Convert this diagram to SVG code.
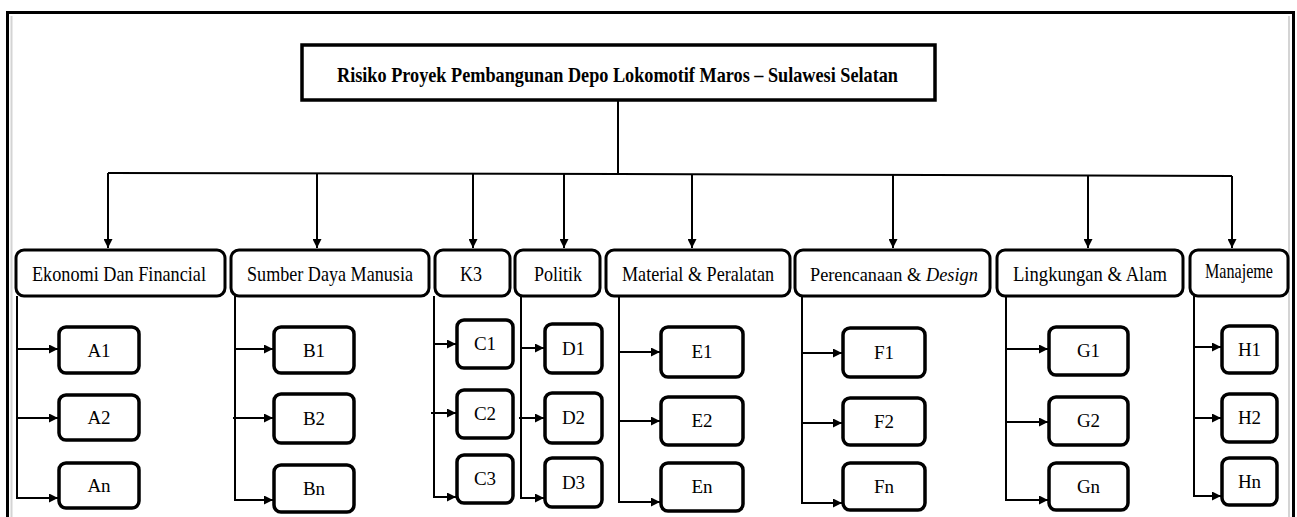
<svg xmlns="http://www.w3.org/2000/svg" width="1297" height="517" viewBox="0 0 1297 517">
  <style>
    .frame { fill: none; stroke: #000; stroke-width: 3; }
    .shade { fill: none; stroke: #d4d4d4; stroke-width: 2; }
    .title-box { fill: #fff; stroke: #000; stroke-width: 3.5; }
    .cat-box { fill: #fff; stroke: #000; stroke-width: 3; }
    .sub-box { fill: #fff; stroke: #000; stroke-width: 3.5; }
    .wire { fill: none; stroke: #000; stroke-width: 2; }
    .arrow { fill: none; stroke: #000; stroke-width: 2; marker-end: url(#head); }
    text { font-family: "Liberation Serif", "Times New Roman", Times, "DejaVu Serif", serif; fill: #000; }
    .title { font-weight: bold; font-size: 22px; text-anchor: middle; }
    .cat { font-size: 21px; text-anchor: middle; }
    .cat-l { font-size: 18.3px; text-anchor: start; }
    .sub { font-size: 19px; text-anchor: middle; }
  </style>
  <defs>
    <marker id="head" viewBox="0 0 10 10" refX="10" refY="5" markerWidth="10" markerHeight="9" markerUnits="userSpaceOnUse" orient="auto">
      <path d="M0,0 L10,5 L0,10 z" fill="#000"/>
    </marker>
  </defs>

  <rect width="1297" height="517" fill="#fff"/>

  <!-- page frame -->
  <g id="frame">
    <line class="shade" x1="11.5" y1="16" x2="11.5" y2="517"/>
    <line class="shade" x1="1289" y1="16" x2="1289" y2="517"/>
    <rect class="frame" x="7.5" y="12.5" width="1286" height="520"/>
  </g>

  <!-- connectors -->
  <g id="connectors">
    <!-- root to bus -->
    <line class="wire" x1="618" y1="100" x2="618" y2="174"/>
    <polyline class="wire" points="108,173 618,174 1232,176"/>
    <!-- bus to categories -->
    <line class="arrow" x1="108" y1="173" x2="108" y2="248"/>
    <line class="arrow" x1="317" y1="173.5" x2="317" y2="248"/>
    <line class="arrow" x1="473" y1="174" x2="473" y2="248"/>
    <line class="arrow" x1="564" y1="174" x2="564" y2="248"/>
    <line class="arrow" x1="692" y1="174.5" x2="692" y2="248"/>
    <line class="arrow" x1="893" y1="175" x2="893" y2="248"/>
    <line class="arrow" x1="1088" y1="175.5" x2="1088" y2="248"/>
    <line class="arrow" x1="1232" y1="176" x2="1232" y2="248"/>

    <!-- A branch -->
    <path class="arrow" d="M17,296 V498 H58"/>
    <line class="arrow" x1="17" y1="349" x2="58" y2="349"/>
    <line class="arrow" x1="17" y1="418" x2="58" y2="418"/>
    <!-- B branch -->
    <path class="arrow" d="M235,296 V500 H273"/>
    <line class="arrow" x1="235" y1="349" x2="273" y2="349"/>
    <line class="arrow" x1="233" y1="418" x2="273" y2="418"/>
    <!-- C branch -->
    <path class="arrow" d="M434,296 V497 H456"/>
    <line class="arrow" x1="434" y1="344" x2="456" y2="344"/>
    <line class="arrow" x1="431" y1="413" x2="456" y2="413"/>
    <!-- D branch -->
    <path class="arrow" d="M521,296 V498 H544"/>
    <line class="arrow" x1="521" y1="348" x2="544" y2="348"/>
    <line class="arrow" x1="519" y1="418" x2="544" y2="418"/>
    <!-- E branch -->
    <path class="arrow" d="M619,296 V502 H660"/>
    <line class="arrow" x1="619" y1="352" x2="660" y2="352"/>
    <line class="arrow" x1="619" y1="421" x2="660" y2="421"/>
    <!-- F branch -->
    <path class="arrow" d="M802,296 V503 H842"/>
    <line class="arrow" x1="802" y1="353" x2="842" y2="353"/>
    <line class="arrow" x1="802" y1="423" x2="842" y2="423"/>
    <!-- G branch -->
    <path class="arrow" d="M1006,296 V500 H1048"/>
    <line class="arrow" x1="1006" y1="349" x2="1048" y2="349"/>
    <line class="arrow" x1="1006" y1="422" x2="1048" y2="422"/>
    <!-- H branch -->
    <path class="arrow" d="M1194,296 V496 H1221"/>
    <line class="arrow" x1="1194" y1="347" x2="1221" y2="347"/>
    <line class="arrow" x1="1194" y1="418" x2="1221" y2="418"/>
  </g>

  <!-- root -->
  <g id="root">
    <rect class="title-box" x="302" y="45" width="633" height="55"/>
    <text class="title" x="617.5" y="82" textLength="561" lengthAdjust="spacingAndGlyphs">Risiko Proyek Pembangunan Depo Lokomotif Maros – Sulawesi Selatan</text>
  </g>

  <!-- categories -->
  <g id="cat-a">
    <rect class="cat-box" x="16" y="250" width="209" height="46" rx="8"/>
    <text class="cat" x="119" y="281" textLength="174" lengthAdjust="spacingAndGlyphs">Ekonomi Dan Financial</text>
  </g>
  <g id="cat-b">
    <rect class="cat-box" x="231" y="250" width="198" height="46" rx="8"/>
    <text class="cat" x="330" y="281" textLength="166" lengthAdjust="spacingAndGlyphs">Sumber Daya Manusia</text>
  </g>
  <g id="cat-c">
    <rect class="cat-box" x="435" y="250" width="75" height="46" rx="8"/>
    <text class="cat" x="471" y="281" textLength="22" lengthAdjust="spacingAndGlyphs">K3</text>
  </g>
  <g id="cat-d">
    <rect class="cat-box" x="515" y="250" width="85" height="46" rx="8"/>
    <text class="cat" x="558" y="281" textLength="48" lengthAdjust="spacingAndGlyphs">Politik</text>
  </g>
  <g id="cat-e">
    <rect class="cat-box" x="606" y="250" width="184" height="46" rx="8"/>
    <text class="cat" x="698" y="281" textLength="152" lengthAdjust="spacingAndGlyphs">Material &amp; Peralatan</text>
  </g>
  <g id="cat-f">
    <rect class="cat-box" x="795" y="250" width="195" height="46" rx="8"/>
    <text class="cat-l" x="810" y="281">Perencanaan &amp;</text>
    <text class="cat-l" x="926" y="281" font-style="italic">Design</text>
  </g>
  <g id="cat-g">
    <rect class="cat-box" x="997" y="250" width="186" height="46" rx="8"/>
    <text class="cat" x="1090" y="281" textLength="154" lengthAdjust="spacingAndGlyphs">Lingkungan &amp; Alam</text>
  </g>
  <g id="cat-h">
    <rect class="cat-box" x="1190" y="250" width="98" height="46" rx="8"/>
    <text class="cat" x="1239" y="278" font-size="17" textLength="68" lengthAdjust="spacingAndGlyphs">Manajeme</text>
  </g>

  <!-- sub-items -->
  <g id="a1"><rect class="sub-box" x="59" y="327" width="80" height="46" rx="7"/><text class="sub" x="99" y="357">A1</text></g>
  <g id="a2"><rect class="sub-box" x="59" y="395" width="80" height="45" rx="7"/><text class="sub" x="99" y="424">A2</text></g>
  <g id="an"><rect class="sub-box" x="59" y="463" width="80" height="45" rx="7"/><text class="sub" x="99" y="492">An</text></g>

  <g id="b1"><rect class="sub-box" x="274" y="327" width="80" height="46" rx="7"/><text class="sub" x="314" y="357">B1</text></g>
  <g id="b2"><rect class="sub-box" x="274" y="394" width="80" height="49" rx="7"/><text class="sub" x="314" y="425">B2</text></g>
  <g id="bn"><rect class="sub-box" x="274" y="465" width="80" height="47" rx="7"/><text class="sub" x="314" y="495">Bn</text></g>

  <g id="c1"><rect class="sub-box" x="457" y="320" width="56" height="48" rx="7"/><text class="sub" x="485" y="350">C1</text></g>
  <g id="c2"><rect class="sub-box" x="457" y="390" width="56" height="48" rx="7"/><text class="sub" x="485" y="420">C2</text></g>
  <g id="c3"><rect class="sub-box" x="457" y="455" width="56" height="48" rx="7"/><text class="sub" x="485" y="485">C3</text></g>

  <g id="d1"><rect class="sub-box" x="545" y="324" width="57" height="49" rx="7"/><text class="sub" x="573.5" y="355">D1</text></g>
  <g id="d2"><rect class="sub-box" x="545" y="393" width="57" height="50" rx="7"/><text class="sub" x="573.5" y="424">D2</text></g>
  <g id="d3"><rect class="sub-box" x="545" y="458" width="57" height="49" rx="7"/><text class="sub" x="573.5" y="489">D3</text></g>

  <g id="e1"><rect class="sub-box" x="661" y="327" width="82" height="50" rx="7"/><text class="sub" x="702" y="358">E1</text></g>
  <g id="e2"><rect class="sub-box" x="661" y="397" width="82" height="48" rx="7"/><text class="sub" x="702" y="427">E2</text></g>
  <g id="en"><rect class="sub-box" x="661" y="463" width="82" height="48" rx="7"/><text class="sub" x="702" y="493">En</text></g>

  <g id="f1"><rect class="sub-box" x="843" y="328" width="82" height="49" rx="7"/><text class="sub" x="884" y="359">F1</text></g>
  <g id="f2"><rect class="sub-box" x="843" y="398" width="82" height="47" rx="7"/><text class="sub" x="884" y="428">F2</text></g>
  <g id="fn"><rect class="sub-box" x="843" y="463" width="82" height="47" rx="7"/><text class="sub" x="884" y="493">Fn</text></g>

  <g id="g1"><rect class="sub-box" x="1049" y="327" width="79" height="48" rx="7"/><text class="sub" x="1088.5" y="357">G1</text></g>
  <g id="g2"><rect class="sub-box" x="1049" y="397" width="79" height="48" rx="7"/><text class="sub" x="1088.5" y="427">G2</text></g>
  <g id="gn"><rect class="sub-box" x="1049" y="463" width="79" height="47" rx="7"/><text class="sub" x="1088.5" y="493">Gn</text></g>

  <g id="h1"><rect class="sub-box" x="1222" y="326" width="55" height="47" rx="7"/><text class="sub" x="1249.5" y="356">H1</text></g>
  <g id="h2"><rect class="sub-box" x="1222" y="394" width="55" height="48" rx="7"/><text class="sub" x="1249.5" y="424">H2</text></g>
  <g id="hn"><rect class="sub-box" x="1222" y="458" width="55" height="47" rx="7"/><text class="sub" x="1249.5" y="488">Hn</text></g>
</svg>
